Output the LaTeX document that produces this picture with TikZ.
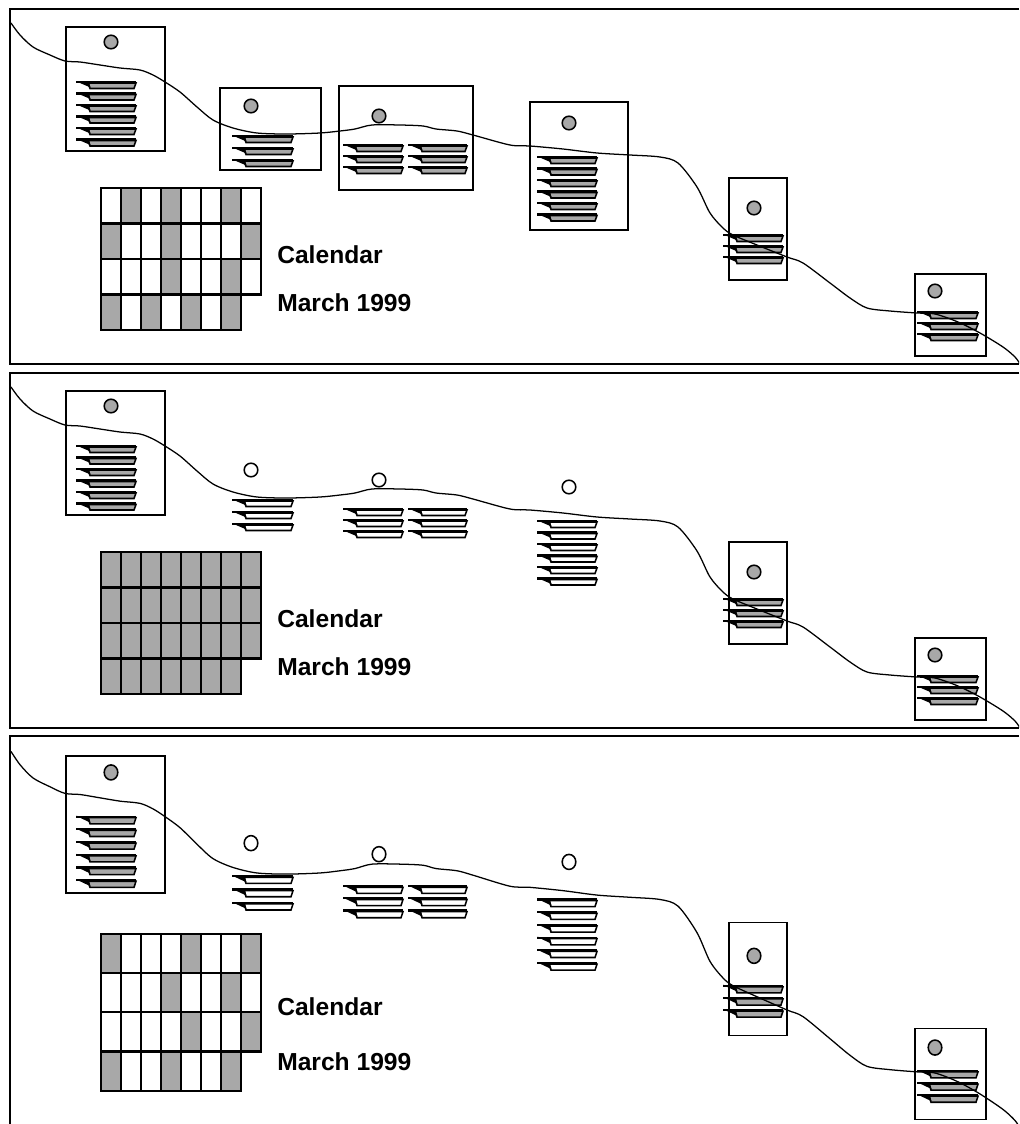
\documentclass[tikz,border=0pt]{standalone}
\usepackage{fontspec}
\setmainfont{Liberation Sans}
\definecolor{cg}{RGB}{168,168,168}
\tikzset{
  panelline/.style={line width=1.9pt},
  boxline/.style={line width=1.4pt},
  thinbox/.style={line width=1pt},
  trail/.style={line width=0.9pt},
  cell/.style={line width=1.6pt},
  lbl/.style={font=\bfseries\fontsize{17.5}{20}\selectfont, anchor=west, inner sep=0pt},
}
\newcommand\tabbar[4]{%
  \filldraw[fill=#4, line width=1.1pt] ({#1+12},{#2+1}) -- ({#1+#3},{#2+1}) -- ({#1+#3-2},{#2+6.5}) -- ({#1+14},{#2+6.5}) -- cycle;
  \draw[line width=1.5pt] ({#1},{#2}) -- ({#1+#3},{#2});
  \fill ({#1},{#2-0.7}) -- ({#1+13},{#2+0.5}) -- ({#1+14.5},{#2+5.5}) -- cycle;
}
\newcommand\barstack[6]{%
  \foreach \k in {1,...,#4} {\pgfmathsetmacro\yy{#2+(\k-1)*#5}\tabbar{#1}{\yy}{#3}{#6}}%
}
\newcommand\tdot[3]{\filldraw[fill=#3, line width=1.1pt] (#1,#2) circle[radius=6.8];}
\newcommand\panelframe{\draw[panelline] (1019,9) -- (10,9) -- (10,364) -- (1019,364);}
\newcommand\trailcurve{%
  \draw[trail] plot[smooth, tension=0.5] coordinates {
    (11,23) (20,35) (33,47) (50,55) (65,61) (80,62) (100,65) (120,68) (140,70) (153,75)
    (165,82) (180,92) (197,107) (213,120) (233,128) (257,133) (287,134) (320,133)
    (340,131) (355,129) (372,125) (400,125) (423,126) (436,129) (457,131) (473,135)
    (510,145) (530,146) (563,149) (597,153) (630,155) (660,157) (678,163) (697,187)
    (710,213) (723,228) (733,235) (757,245) (787,257) (803,263) (830,283) (850,298)
    (867,308) (890,311) (917,313) (935,314) (958,322) (980,333) (1003,347) (1015,357) (1020,364)};
}
\newcommand\cellgrid{%
  \foreach \r in {0,1,2} {\foreach \c in {0,...,7} {\draw[cell] ({101+20*\c},{188+35.5*\r}) rectangle ++(20,35.5);}}
  \foreach \c in {0,...,6} {\draw[cell] ({101+20*\c},{188+35.5*3}) rectangle ++(20,35.5);}
}
\newcommand\sideboxes{%
  % box A
  \draw[boxline] (66,27) rectangle (165,151);
  \tdot{111}{42}{cg}
  \barstack{76}{82}{60}{6}{11.5}{cg}
  % box E
  \draw[thinbox] (729,178) rectangle (787,280);
  \tdot{754}{208}{cg}
  \barstack{723}{235}{60}{3}{11}{cg}
  % box F
  \draw[thinbox] (915,274) rectangle (986,356);
  \tdot{935}{291}{cg}
  \barstack{917}{312}{61}{3}{11}{cg}
}
\newcommand\openitems{%
  \tdot{251}{106}{white}
  \barstack{232}{136}{61}{3}{12}{white}
  \tdot{379}{116}{white}
  \barstack{343}{145}{60}{3}{11}{white}
  \barstack{408}{145}{59}{3}{11}{white}
  \tdot{569}{123}{white}
  \barstack{537}{157}{60}{6}{11.5}{white}
}
\begin{document}
\begin{tikzpicture}[x=0.025cm, y=-0.025cm]
\clip (0,0) rectangle (1019,1124);
\fill[white] (0,0) rectangle (1019,1124);
% ---------- panel 1 ----------
\begin{scope}
  \panelframe
  \sideboxes
  \draw[boxline] (220,88) rectangle (321,170);
  \tdot{251}{106}{cg}
  \barstack{232}{136}{61}{3}{12}{cg}
  \draw[boxline] (339,86) rectangle (473,190);
  \tdot{379}{116}{cg}
  \barstack{343}{145}{60}{3}{11}{cg}
  \barstack{408}{145}{59}{3}{11}{cg}
  \draw[boxline] (530,102) rectangle (628,230);
  \tdot{569}{123}{cg}
  \barstack{537}{157}{60}{6}{11.5}{cg}
  \foreach \c/\r in {1/0,3/0,6/0, 0/1,3/1,7/1, 3/2,6/2, 0/3,2/3,4/3,6/3}
    {\fill[cg] ({101+20*\c},{188+35.5*\r}) rectangle ++(20,35.5);}
  \cellgrid
  \node[lbl] (calA) at (277,255) {Calendar};
  \node[lbl] (monA) at (277,303) {March 1999};
  \trailcurve
\end{scope}
% ---------- panel 2 ----------
\begin{scope}[shift={(0,364)}]
  \panelframe
  \sideboxes
  \openitems
  \fill[cg] (101,188) rectangle (261,294.5);
  \fill[cg] (101,294.5) rectangle (241,330);
  \cellgrid
  \node[lbl] (calB) at (277,255) {Calendar};
  \node[lbl] (monB) at (277,303) {March 1999};
  \trailcurve
\end{scope}
% ---------- panel 3 ----------
\begin{scope}[shift={(0,726)}, yscale=1.105]
  \panelframe
  \sideboxes
  \openitems
  \foreach \c/\r in {0/0,4/0,7/0, 3/1,6/1, 4/2,7/2, 0/3,3/3,6/3}
    {\fill[cg] ({101+20*\c},{188+35.5*\r}) rectangle ++(20,35.5);}
  \cellgrid
  \node[lbl] (calC) at (277,254) {Calendar};
  \node[lbl] (monC) at (277,304) {March 1999};
  \trailcurve
\end{scope}
\end{tikzpicture}
\end{document}
